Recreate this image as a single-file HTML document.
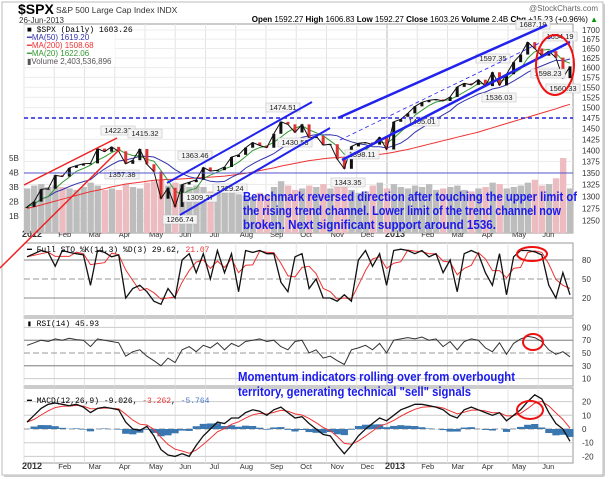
<!DOCTYPE html>
<html><head><meta charset="utf-8"><style>
html,body{margin:0;padding:0;background:#fff;}
svg{display:block;font-family:"Liberation Sans",Arial,sans-serif;}
</style></head><body>
<svg id="c" width="609" height="479" viewBox="0 0 609 479">
<rect x="0" y="0" width="609" height="479" fill="#fff"/>
<rect x="2" y="2" width="601" height="473" fill="none" stroke="#bbb"/>
<line x1="604" y1="4" x2="604" y2="476" stroke="#ccc" stroke-width="2"/>
<line x1="4" y1="476" x2="604" y2="476" stroke="#ccc" stroke-width="2"/>
<text x="18" y="14" font-size="14" font-weight="bold">$SPX</text>
<text x="56" y="13" font-size="8.5" fill="#333">S&amp;P 500 Large Cap Index INDX</text>
<text x="19" y="23" font-size="8" fill="#333">26-Jun-2013</text>
<text x="598" y="11" font-size="8" fill="#666" text-anchor="end">@StockCharts.com</text>
<text x="598" y="22" font-size="8" text-anchor="end"><tspan font-weight="bold">Open</tspan> 1592.27 <tspan font-weight="bold">High</tspan> 1606.83 <tspan font-weight="bold">Low</tspan> 1592.27 <tspan font-weight="bold">Close</tspan> 1603.26 <tspan font-weight="bold">Volume</tspan> 2.4B <tspan font-weight="bold">Chg</tspan> +15.23 (+0.96%) <tspan fill="#090">▲</tspan></text>
<g id="grid"></g>
<g id="marks"></g>
<g id="overlay"></g>
</svg>
<script>
// ---- data (weekly, Jan 2012 - Jun 2013) ----
const monthLabels=["2012","Feb","Mar","Apr","May","Jun","Jul","Aug","Sep","Oct","Nov","Dec","2013","Feb","Mar","Apr","May","Jun"];
const priceTicks=[1700,1675,1650,1625,1600,1575,1550,1525,1500,1475,1450,1425,1400,1375,1350,1325,1300,1275,1250];
const closes=[1278,1289,1315,1316,1345,1342,1361,1366,1370,1371,1404,1397,1408,1398,1370,1378,1403,1369,1353,1295,1318,1278,1325,1330,1335,1362,1354,1356,1363,1385,1390,1406,1418,1411,1406,1438,1466,1460,1441,1460,1428,1433,1412,1414,1380,1359,1409,1416,1418,1413,1430,1402,1466,1472,1486,1503,1513,1518,1520,1516,1526,1551,1560,1556,1569,1553,1588,1555,1583,1614,1634,1667,1650,1631,1643,1626,1573,1603];
const ma200=[1275,1278,1282,1286,1290,1294,1298,1302,1306,1310,1313,1316,1320,1323,1326,1328,1330,1332,1334,1335,1336,1336,1337,1338,1339,1340,1341,1342,1343,1345,1347,1349,1352,1355,1358,1361,1365,1368,1371,1374,1377,1379,1381,1383,1384,1385,1386,1387,1388,1389,1391,1393,1396,1399,1402,1406,1410,1414,1418,1422,1426,1430,1434,1438,1442,1447,1452,1457,1462,1467,1472,1477,1482,1487,1492,1497,1503,1508];
const volumes=[2.9,3.1,3.2,3.0,3.1,3.0,2.9,2.8,3.0,3.3,3.1,2.8,2.9,2.8,3.2,3.0,2.9,3.3,3.4,3.5,3.1,3.3,3.2,3.0,3.1,3.0,2.7,2.8,2.9,2.7,2.5,2.4,2.3,2.6,2.4,3.0,3.4,3.1,2.8,2.9,3.1,3.0,3.2,2.9,3.3,3.6,2.8,2.6,2.7,3.1,3.3,2.9,3.2,3.0,2.9,3.1,3.0,3.2,2.8,2.9,3.0,3.1,2.8,2.7,2.9,3.0,3.3,3.2,2.9,3.0,3.1,3.3,3.5,3.1,3.2,3.6,5.0,2.9];
const volTicks=["1B","2B","3B","4B","5B"];
const stoK=[85,90,95,92,70,95,92,90,88,40,95,92,85,88,20,35,40,30,15,10,35,20,80,90,60,90,50,95,60,90,30,95,92,95,90,90,45,30,85,90,35,50,20,20,15,25,15,80,95,70,90,40,95,97,95,90,95,85,90,60,80,30,90,95,90,60,40,90,25,85,95,95,93,88,40,20,60,25];
const rsi=[62,66,70,68,72,70,73,71,70,60,72,70,68,66,45,52,55,45,38,30,42,35,55,60,52,62,58,66,55,65,60,68,70,72,68,70,60,55,68,70,50,55,42,45,38,32,55,58,62,55,65,50,70,72,74,72,75,70,72,60,68,55,68,72,70,58,52,66,48,65,72,76,74,68,55,48,52,44];
const macd=[5,10,15,18,19,18,17,18,16,12,15,16,15,14,5,0,-1,2,-5,-15,-19,-20,-18,-20,-12,-5,0,5,4,8,8,12,14,13,10,14,16,12,8,9,4,0,-4,-5,-12,-18,-12,-5,0,4,8,6,10,14,16,18,18,17,16,14,10,8,14,16,14,12,10,12,6,10,14,20,25,22,12,4,0,-9];
const stoTicks=[80,50,20], rsiTicks=[90,70,50,30,10], macdTicks=[20,10,0,-10,-20];
const priceLabels=[["1422.38",118,133],["1415.32",145,136],["1357.38",122,177],["1363.46",195,158],["1309.27",200,200],["1329.24",230,191],["1266.74",180,222],["1474.51",283,110],["1430.53",295,145],["1343.35",348,185],["1398.11",362,157],["1405.01",422,124],["1597.35",493,61],["1536.03",499,100],["1687.19",533,27],["1654.19",560,39],["1598.23",548,76],["1560.33",563,91]];

// ---- axes ----
const X0=24,X1=573,N=closes.length;
const xw=i=>X0+3+i*(X1-X0-6)/(N-1);
const xm=m=>X0+m*30.25;
const yP=p=>30+620*Math.log(1700/p);
const yV=v=>230.5-v*14.5;
const yS=v=>298-(v-20)*(38/60);
const yR=v=>353-(v-50)*0.64;
const yM=v=>429-v*1.37;
const NS='http://www.w3.org/2000/svg';
function mk(parent,tag,attrs){const e=document.createElementNS(NS,tag);for(const k in attrs)e.setAttribute(k,attrs[k]);document.getElementById(parent).appendChild(e);return e;}
function pts(arr,fy){return arr.map((v,i)=>xw(i).toFixed(1)+','+fy(v).toFixed(1)).join(' ');}

const panels=[[24,233],[243,316],[318,386],[388,463]];
panels.forEach((p,pi)=>{
  let r=mk('grid','rect',{x:X0,y:p[0],width:X1-X0,height:p[1]-p[0],fill:'#fff',stroke:'#999'});
  
  
  monthLabels.forEach((m,i)=>{mk('grid','line',{x1:xm(i),x2:xm(i),y1:p[0],y2:p[1],stroke:i==12?'#bbb':'#e4e4e4'});});
});
priceTicks.forEach(t=>{
  mk('grid','line',{x1:X0,x2:X1,y1:yP(t),y2:yP(t),stroke:'#ececec'});
  const e=mk('grid','text',{x:582,y:yP(t)+3,'font-size':8,fill:'#333'});e.textContent=t;
  
  
});
volTicks.forEach((t,i)=>{const e=mk('grid','text',{x:9,y:yV(i+1)+3,'font-size':8,fill:'#333'});e.textContent=t;
  
  });
[237,469].forEach(y=>monthLabels.forEach((m,i)=>{
  const e=mk('grid','text',{x:xm(i)+(i==0||i==12?-2:4),y:y,'font-size':(i==0||i==12)?9:7.5,'font-weight':(i==0||i==12)?'bold':'normal',fill:'#333'});e.textContent=m;
  
  
}));
function ticks(arr,fy,mid){arr.forEach(t=>{
  const dashed=(t===mid);
  mk('grid','line',{x1:X0,x2:X1,y1:fy(t),y2:fy(t),stroke:dashed?'#999':'#ccc','stroke-dasharray':dashed?'6,3':'none'});
  const e=mk('grid','text',{x:582,y:fy(t)+3,'font-size':8,fill:'#333'});e.textContent=t;
  
  
});}
ticks(stoTicks,yS,50);ticks(rsiTicks,yR,50);ticks(macdTicks,yM,0);
[[yS(80)],[yS(20)],[yR(70)],[yR(30)]].forEach(a=>mk('grid','line',{x1:X0,x2:X1,y1:a[0],y2:a[0],stroke:'#888'}));

// ---- volume ----
volumes.forEach((v,i)=>{
  const up=i==0||closes[i]>=closes[i-1];
  const b=mk('marks','rect',{x:xw(i)-3,y:yV(v),width:6.4,height:233-yV(v),fill:up?'#bdbdbd':'#ecbcc0'});
  
  
});
// ---- moving averages ----
function sma(n){return closes.map((c,i)=>{const s=closes.slice(Math.max(0,i-n+1),i+1);return s.reduce((a,b)=>a+b,0)/s.length;});}
let l=mk('marks','polyline',{points:pts(ma200,yP),fill:'none',stroke:'#e33',"stroke-width":1});

l=mk('marks','polyline',{points:pts(sma(10),yP),fill:'none',stroke:'#33a',"stroke-width":1});

l=mk('marks','polyline',{points:pts(sma(4),yP),fill:'none',stroke:'#393',"stroke-width":1});

// price bars
closes.forEach((c,i)=>{
  const o=i?closes[i-1]:c, up=c>=o;
  const r=mk('marks','rect',{x:xw(i)-1.5,y:Math.min(yP(c),yP(o)),width:3,height:Math.max(1,Math.abs(yP(c)-yP(o))),fill:up?'#111':'#d33'});
  
  
});
l=mk('marks','polyline',{points:pts(closes,yP),fill:'none',stroke:'#111',"stroke-width":1});

priceLabels.forEach(p=>{
  const w=p[0].length*4.3+4;
  mk('marks','rect',{x:p[1]-w/2,y:p[2]-7,width:w,height:9,fill:'#f4f4f4',stroke:'#bbb','stroke-width':0.5});
  const e=mk('marks','text',{x:p[1],y:p[2],'font-size':7.5,'text-anchor':'middle',fill:'#222'});e.textContent=p[0];
  
  
});
// ---- STO ----
const stoD=stoK.map((v,i)=>{const s=stoK.slice(Math.max(0,i-2),i+1);return s.reduce((a,b)=>a+b,0)/s.length;});
l=mk('marks','polyline',{points:pts(stoD,yS),fill:'none',stroke:'#e33',"stroke-width":1});

l=mk('marks','polyline',{points:pts(stoK,yS),fill:'none',stroke:'#111',"stroke-width":1.3});

// ---- RSI ----
l=mk('marks','polyline',{points:pts(rsi,yR),fill:'none',stroke:'#333',"stroke-width":1});

// ---- MACD ----
const sig=[];macd.forEach((v,i)=>sig.push(i?sig[i-1]+0.4*(v-sig[i-1]):v));
macd.forEach((v,i)=>{const h=(v-sig[i])*0.6;
  const r=mk('marks','rect',{x:xw(i)-3.6,y:Math.min(yM(0),yM(h)),width:7.2,height:Math.abs(yM(h)-yM(0)),fill:'#3a77b0'});
  
  
});
l=mk('marks','polyline',{points:pts(sig,yM),fill:'none',stroke:'#e33',"stroke-width":1});

l=mk('marks','polyline',{points:pts(macd,yM),fill:'none',stroke:'#111',"stroke-width":1.3});

</script>
<script>
(function(){
const o=document.getElementById('overlay');
o.innerHTML=`
<g font-size="8">
<rect x="25" y="25" width="90" height="41" fill="#fff" opacity="0.8"/>
<text x="27" y="32" font-family="Liberation Mono,monospace">■ $SPX (Daily) 1603.26</text>
<text x="27" y="40" fill="#33a">━MA(50) 1619.20</text>
<text x="27" y="48" fill="#e33">━MA(200) 1508.68</text>
<text x="27" y="56" fill="#393">━MA(20) 1622.06</text>
<text x="27" y="64" fill="#555">▮Volume 2,403,536,896</text>
</g>
<line x1="24" y1="118" x2="573" y2="118" stroke="#22d" stroke-width="1.5" stroke-dasharray="4,3"/>
<line x1="24" y1="173" x2="573" y2="173" stroke="#55c" stroke-width="1"/>
<line x1="0" y1="268" x2="120" y2="149" stroke="#e22" stroke-width="1.5"/>
<line x1="24" y1="185" x2="117" y2="138" stroke="#e22" stroke-width="1.5"/>
<line x1="167" y1="183" x2="312" y2="102" stroke="#22e" stroke-width="2"/>
<line x1="180" y1="215" x2="330" y2="128" stroke="#22e" stroke-width="2"/>
<line x1="338" y1="118" x2="547" y2="25" stroke="#22e" stroke-width="2.5"/>
<line x1="342" y1="160" x2="570" y2="42" stroke="#22e" stroke-width="2.5"/>
<line x1="340" y1="140" x2="560" y2="33" stroke="#22e" stroke-width="0.8" stroke-dasharray="4,3"/>
<ellipse cx="555" cy="65" rx="19" ry="30" fill="none" stroke="#e11" stroke-width="2"/>
<ellipse cx="532" cy="254" rx="15" ry="7" fill="none" stroke="#e11" stroke-width="2"/>
<ellipse cx="533" cy="342" rx="10" ry="8" fill="none" stroke="#e11" stroke-width="2"/>
<ellipse cx="530" cy="410" rx="13" ry="9" fill="none" stroke="#e11" stroke-width="2"/>
<g font-size="12.5" font-weight="bold" fill="#1a1aee">
<text x="243" y="201" textLength="334" lengthAdjust="spacingAndGlyphs">Benchmark reversed direction after touching the upper limit of</text>
<text x="243" y="215" textLength="318" lengthAdjust="spacingAndGlyphs">the rising trend channel. Lower limit of the trend channel now</text>
<text x="243" y="229" textLength="253" lengthAdjust="spacingAndGlyphs">broken.   Next significant support around 1536.</text>
</g>
<g font-size="12.5" font-weight="bold" fill="#1a1aee">
<text x="238" y="381" textLength="277" lengthAdjust="spacingAndGlyphs">Momentum indicators rolling over from overbought</text>
<text x="238" y="396" textLength="233" lengthAdjust="spacingAndGlyphs">territory, generating technical "sell" signals</text>
</g>
<text x="27" y="252" font-size="8" font-family="Liberation Mono,monospace">━ Full STO %K(14,3) %D(3) 29.62, <tspan fill="#e33">21.07</tspan></text>
<text x="27" y="326" font-size="8" font-family="Liberation Mono,monospace">▮ RSI(14) 45.93</text>
<text x="27" y="403" font-size="8" font-family="Liberation Mono,monospace">━ MACD(12,26,9) -9.026, <tspan fill="#e33">-3.262</tspan>, <tspan fill="#47c">-5.764</tspan></text>
`;
})();
</script>
</body></html>
